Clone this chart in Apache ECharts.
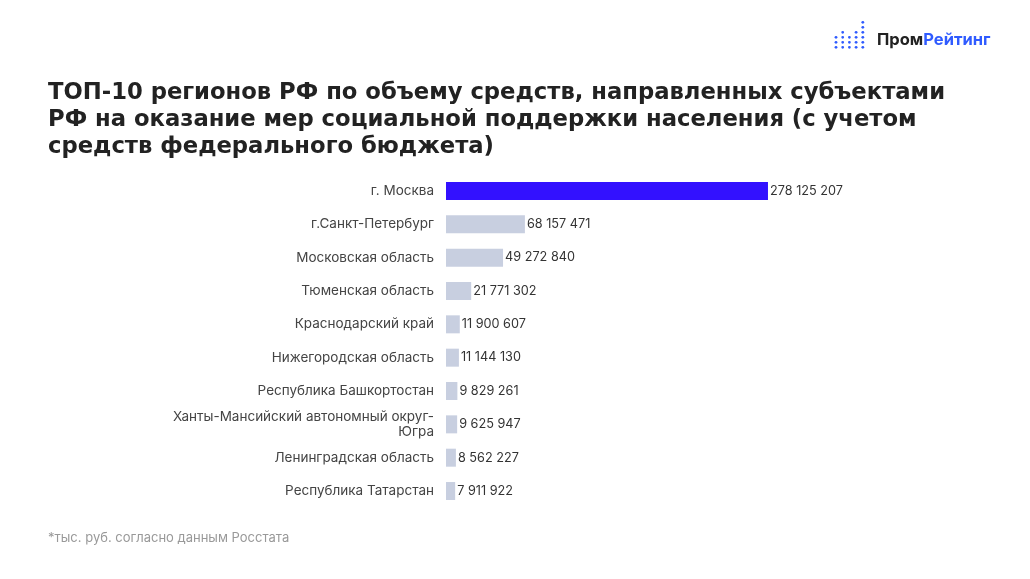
<!DOCTYPE html>
<html><head><meta charset="utf-8">
<script src="https://cdn.jsdelivr.net/npm/echarts@6/dist/echarts.min.js"></script>
<style>html,body{margin:0;padding:0;background:#fff}#c{width:1030px;height:579px}</style>
</head><body><div id="c"></div>
<script>
const categories = ["г. Москва","г.Санкт-Петербург","Московская область","Тюменская область","Краснодарский край","Нижегородская область","Республика Башкортостан","Ханты-Мансийский автономный округ-\nЮгра","Ленинградская область","Республика Татарстан"];
const values = [278125207,68157471,49272840,21771302,11900607,11144130,9829261,9625947,8562227,7911922];
const highlightIndex = 0;

const fmt = v => String(v).replace(/\B(?=(\d{3})+(?!\d))/g, ' ');
const chart = echarts.init(document.getElementById('c'), null, {renderer:'canvas'});

const logo = [];
const colHeights = [3,4,3,4,6];
colHeights.forEach((h,ci)=>{
  for(let r=0;r<h;r++){
    logo.push({type:'circle',shape:{cx:836+ci*6.7,cy:47.3-r*5,r:1.4},style:{fill:'#2f5bff'}});
  }
});

chart.setOption({
  backgroundColor:'#fff',
  animation:false,
  title:{
    text:'ТОП-10 регионов РФ по объему средств, направленных субъектами\nРФ на оказание мер социальной поддержки населения (с учетом\nсредств федерального бюджета)',
    left:43, top:75,
    textStyle:{fontFamily:'DejaVu Sans',fontWeight:'bold',fontSize:22.7,lineHeight:27,color:'#222'}
  },
  graphic:[
    ...logo,
    {type:'text',left:877,top:32,style:{rich:{a:{fill:'#222',fontFamily:'Inter',fontWeight:'bold',fontSize:16.5},b:{fill:'#2f5bff',fontFamily:'Inter',fontWeight:'bold',fontSize:16.5}},text:'{a|Пром}{b|Рейтинг}'}},
    {type:'text',left:48,top:532,style:{text:'*тыс. руб. согласно данным Росстата',fill:'#999',fontFamily:'Inter',fontSize:13}}
  ],
  grid:{left:446,top:174.3,width:347.3,height:333.4,containLabel:false},
  xAxis:{type:'value',min:0,max:300000000,show:false},
  yAxis:{type:'category',inverse:true,data:categories,
    axisLine:{show:false},axisTick:{show:false},
    axisLabel:{margin:12,color:'#444',fontFamily:'Inter',fontSize:13.5,lineHeight:15,align:'right'}},
  series:[{
    type:'bar',barWidth:18,
    data:values.map((v,i)=>({value:v,itemStyle:{color:i===highlightIndex?'#3311ff':'#c8cfe0'}})),
    label:{show:true,position:'right',distance:2,formatter:p=>fmt(p.value),color:'#333',fontFamily:'Inter',fontSize:12.7}
  }]
});
</script></body></html>
